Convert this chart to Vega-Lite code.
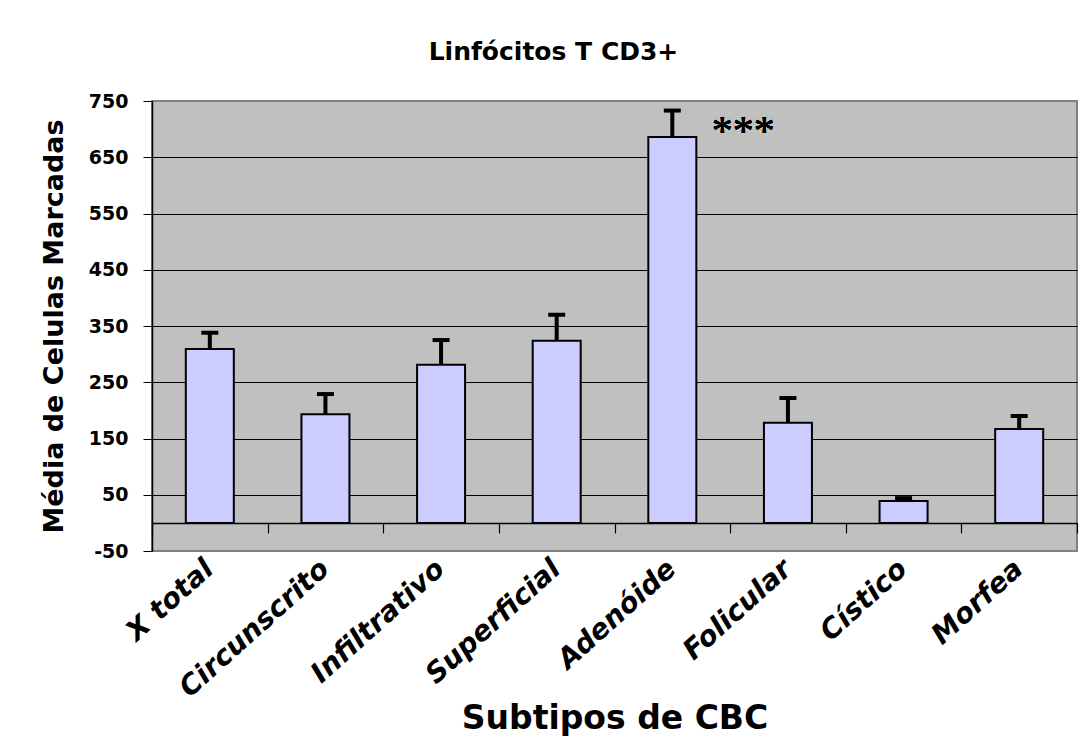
{
  "$schema": "https://vega.github.io/schema/vega-lite/v6.json",
  "autosize": {"type": "none"},
  "padding": {"left": 152, "top": 101, "right": 12, "bottom": 191},
  "width": 925,
  "height": 450,
  "background": "white",
  "title": {
    "text": "Linfócitos T CD3+",
    "font": "DejaVu Sans",
    "fontWeight": "bold",
    "fontSize": 25,
    "color": "black",
    "anchor": "middle",
    "frame": "group",
    "baseline": "alphabetic",
    "offset": 7,
    "dx": -61
  },
  "config": {
    "view": {"fill": "#C0C0C0", "stroke": "#808080", "strokeWidth": 2},
    "axis": {"labelFont": "DejaVu Sans", "titleFont": "DejaVu Sans", "labelColor": "black", "titleColor": "black"}
  },
  "data": {
    "values": [
      {"subtipo": "X total", "media": 309, "superior": 338},
      {"subtipo": "Circunscrito", "media": 193, "superior": 229},
      {"subtipo": "Infiltrativo", "media": 281, "superior": 325},
      {"subtipo": "Superficial", "media": 324, "superior": 370},
      {"subtipo": "Adenóide", "media": 686, "superior": 733},
      {"subtipo": "Folicular", "media": 178, "superior": 222},
      {"subtipo": "Cístico", "media": 39, "superior": 44},
      {"subtipo": "Morfea", "media": 167, "superior": 190}
    ]
  },
  "layer": [
    {
      "mark": {"type": "bar", "width": 48, "fill": "#CCCCFF", "stroke": "black", "strokeWidth": 2},
      "encoding": {
        "x": {
          "field": "subtipo",
          "type": "nominal",
          "sort": null,
          "scale": {"paddingInner": 0, "paddingOuter": 0},
          "axis": {
            "orient": "bottom",
            "labelAngle": -42,
            "labelAlign": "right",
            "labelBaseline": "middle",
            "labelFontSize": 28,
            "labelFontWeight": "bold",
            "labelFontStyle": "italic",
            "labelPadding": 14,
            "labelLimit": 0,
            "labelOverlap": false,
            "ticks": false,
            "tickSize": 0,
            "domain": false,
            "title": "Subtipos de CBC",
            "titleFontSize": 33,
            "titleFontWeight": "bold",
            "titleY": 177,
            "titleBaseline": "alphabetic",
            "titleAlign": "center"
          }
        },
        "y": {
          "field": "media",
          "type": "quantitative",
          "scale": {"domain": [-50, 750], "nice": false, "zero": false},
          "axis": {
            "values": [-50, 50, 150, 250, 350, 450, 550, 650, 750],
            "labelExpr": "'' + datum.value",
            "grid": true,
            "gridColor": {"condition": {"test": "datum.value == -50 || datum.value == 750", "value": "#808080"}, "value": "black"},
            "gridWidth": 1,
            "gridOpacity": 1,
            "domain": true,
            "domainColor": "black",
            "domainWidth": 1.5,
            "ticks": true,
            "tickColor": "black",
            "tickSize": 9,
            "labelFontSize": 19,
            "labelFontWeight": "bold",
            "labelPadding": 15,
            "title": "Média de Celulas Marcadas",
            "titleFontSize": 27,
            "titleFontWeight": "bold",
            "titleAngle": -90,
            "titleX": -90,
            "titleY": 225,
            "titleAlign": "center",
            "titleBaseline": "alphabetic"
          }
        },
        "y2": {"datum": 0}
      }
    },
    {
      "mark": {"type": "rule", "strokeWidth": 4, "color": "black"},
      "encoding": {
        "x": {
          "field": "subtipo",
          "type": "nominal",
          "sort": null,
          "axis": {
            "orient": "bottom",
            "offset": -28,
            "labels": false,
            "title": null,
            "domain": true,
            "domainColor": "black",
            "domainWidth": 1.5,
            "ticks": true,
            "tickBand": "extent",
            "tickColor": "black",
            "tickSize": 10,
            "tickWidth": 1.2,
            "grid": false
          }
        },
        "y": {"field": "media", "type": "quantitative"},
        "y2": {"field": "superior"}
      }
    },
    {
      "mark": {"type": "tick", "size": 17, "thickness": 4, "color": "black", "opacity": 1},
      "encoding": {
        "x": {"field": "subtipo", "type": "nominal", "sort": null, "axis": null},
        "y": {"field": "superior", "type": "quantitative"}
      }
    },
    {
      "mark": {"type": "text", "text": "***", "font": "Liberation Serif", "fontSize": 42, "align": "center", "baseline": "alphabetic", "dx": 71, "color": "black"},
      "encoding": {
        "x": {"datum": "Adenóide", "type": "nominal", "axis": null},
        "y": {"datum": 672, "type": "quantitative"}
      }
    }
  ],
  "resolve": {"axis": {"x": "independent"}}
}
